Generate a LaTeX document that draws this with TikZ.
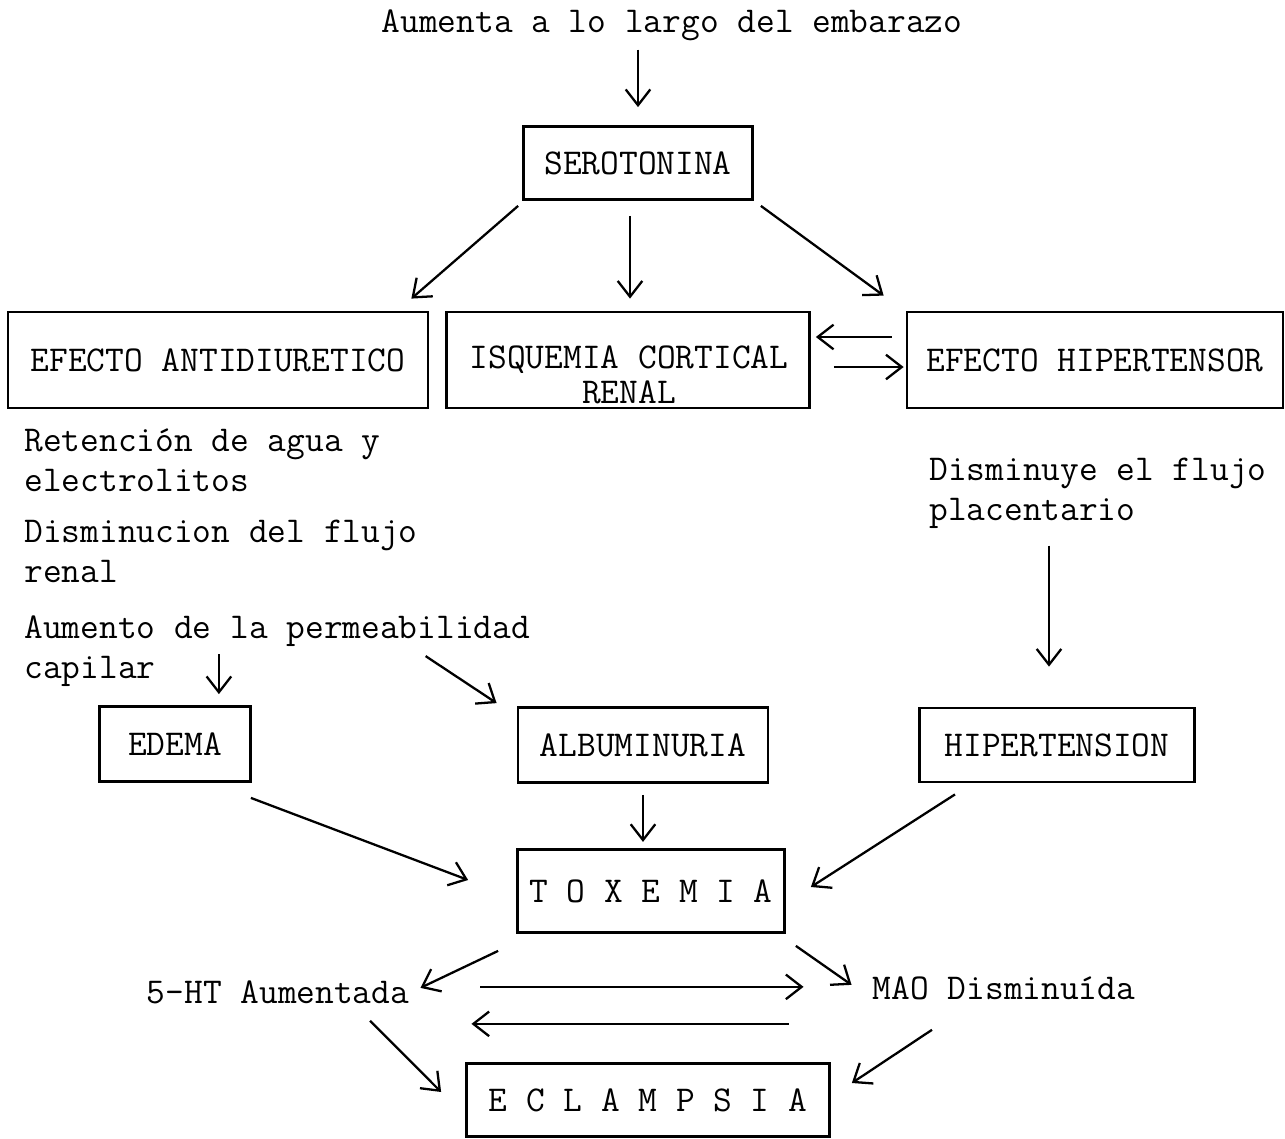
\documentclass[tikz,border=0pt]{standalone}
\usepackage{fontspec}
\usetikzlibrary{calc, arrows.meta}
\newcommand{\typewriter}{\fontsize{20.7}{22.8}\ttfamily\addfontfeatures{FakeBold=2}}
\tikzset{
    box/.style = {
      draw,
      line width = 1.6pt,
      inner sep = 0pt,
      align = center,
      font = \typewriter
    },
    note/.style = {
      inner sep = 0pt,
      align = left,
      font = \typewriter
    },
    -->/.style = {
      -{Straight Barb[length=9pt,width=14pt]},
      line width = 1.3pt
    },
}
\begin{document}
\begin{tikzpicture}[x=0.02cm, y=-0.02cm]
    \useasboundingbox (0,0) rectangle (1285,1139);

    % top
    \node[note, anchor=base] (EMBARAZO) at (672,32) {Aumenta a lo largo del embarazo};
    \node[box, minimum width=4.58cm, minimum height=1.46cm] (SEROTONINA) at (638,163) {SEROTONINA};

    % second row
    \node[box, minimum width=8.4cm, minimum height=1.92cm] (ANTIDIURETICO) at (218,360) {EFECTO ANTIDIURETICO};
    \node[box, minimum width=7.26cm, minimum height=1.92cm] (ISQUEMIA) at (628,360) {};
    \node[note, align=center, font=\typewriter\linespread{0.86}\selectfont] (ISQUEMIATXT) at (629,375) {ISQUEMIA CORTICAL\\RENAL};
    \node[box, minimum width=7.52cm, minimum height=1.92cm] (HIPERTENSOR) at (1095,360) {EFECTO HIPERTENSOR};

    % notes
    \node[note, anchor=west] (RETENCION) at (24,460) {Retención de agua y\\electrolitos};
    \node[note, anchor=west] (DISMINUCION) at (24,551) {Disminucion del flujo\\renal};
    \node[note, anchor=west] (PERMEABILIDAD) at (24,651) {Aumento de la permeabilidad\\capilar};
    \node[note, anchor=west] (PLACENTARIO) at (929,493) {Disminuye el flujo\\placentario};

    % third row
    \node[box, minimum width=3.02cm, minimum height=1.5cm] (EDEMA) at (175,744) {EDEMA};
    \node[box, minimum width=5.0cm, minimum height=1.5cm] (ALBUMINURIA) at (643,745) {ALBUMINURIA};
    \node[box, minimum width=5.5cm, minimum height=1.48cm] (HIPERTENSION) at (1057,745) {HIPERTENSION};

    % bottom
    \node[box, minimum width=5.34cm, minimum height=1.66cm] (TOXEMIA) at (651,891) {T O X E M I A};
    \node[note, anchor=base] (HT) at (278,1003) {5-HT Aumentada};
    \node[note, anchor=base] (MAO) at (1004,999) {MAO Disminuída};
    \node[box, minimum width=7.26cm, minimum height=1.46cm] (ECLAMPSIA) at (648,1100) {E C L A M P S I A};

    \draw[-->] (SEROTONINA.north |- EMBARAZO.south) ++(0,9) -- ($(SEROTONINA.north)+(0,-18)$);
    \draw[-->] ($(SEROTONINA.south west)+(-4,5)$) -- ($(ANTIDIURETICO.north east)+(-18,-12)$);
    \draw[-->] ($(SEROTONINA.south)+(-8,15)$) -- ($(ISQUEMIA.north)+(2,-12)$);
    \draw[-->] ($(SEROTONINA.south east)+(7,5)$) -- ($(HIPERTENSOR.north west)+(-22,-15)$);
    \draw[-->] ($(HIPERTENSOR.west)+(-14,-23)$) -- ($(ISQUEMIA.east)+(5,-23)$);
    \draw[-->] ($(ISQUEMIA.east)+(23,7)$) -- ($(HIPERTENSOR.west)+(-2,7)$);

    \draw[-->] ($(EDEMA.north east)+(-33,-51)$) -- ($(EDEMA.north east)+(-33,-11)$);
    \draw[-->] ($(ALBUMINURIA.north west)+(-91,-50)$) -- ($(ALBUMINURIA.north west)+(-20,-3)$);
    \draw[-->] ($(HIPERTENSION.north)+(-8,-161)$) -- ($(HIPERTENSION.north)+(-8,-40)$);

    \draw[-->] ($(ALBUMINURIA.south)+(0,11)$) -- ($(ALBUMINURIA.south)+(0,58)$);
    \draw[-->] ($(EDEMA.south east)+(-1,15)$) -- ($(TOXEMIA.west)+(-48,-11)$);
    \draw[-->] ($(HIPERTENSION.south)+(-102,11)$) -- ($(TOXEMIA.east)+(25,-4)$);

    \draw[-->] ($(TOXEMIA.south west)+(-18,17)$) -- ($(HT.east)+(11,-4)$);
    \draw[-->] ($(TOXEMIA.south east)+(10,12)$) -- ($(MAO.west)+(-21,-3)$);
    \draw[-->] ($(HT.east)+(71,-5)$) -- ($(MAO.west)+(-69,-1)$);
    \draw[-->] ($(MAO.west)+(-84,36)$) -- ($(HT.east)+(62,32)$);
    \draw[-->] ($(HT.south)+(92,17)$) -- ($(ECLAMPSIA.west)+(-24,-8)$);
    \draw[-->] ($(MAO.south)+(-72,30)$) -- ($(ECLAMPSIA.east)+(21,-17)$);
\end{tikzpicture}
\end{document}
